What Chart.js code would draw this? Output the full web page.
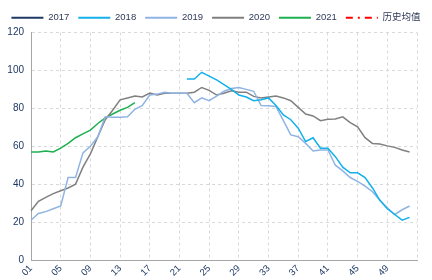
<!DOCTYPE html>
<html>
<head>
<meta charset="utf-8">
<script src="https://cdn.jsdelivr.net/npm/chart.js@4/dist/chart.umd.min.js"></script>
<style>
  html, body { margin: 0; padding: 0; background: #fff; }
  #wrap { width: 432px; height: 280px; }
</style>
</head>
<body>
<div id="wrap"><canvas id="chart"></canvas></div>
<script>
// week labels 01..53
const weeks = Array.from({ length: 53 }, (_, i) => String(i + 1).padStart(2, '0'));

// values, week 1 onwards
const s2017 = [];
const s2018 = [null, null, null, null, null, null, null, null, null, null,
    null, null, null, null, null, null, null, null, null, null, null,
    95.5, 95.5, 99, 97, 95, 92.5, 90, 87, 86, 84, 84.5, 85.5, 81.5, 76.5, 74, 69.5,
    62.5, 64.5, 59, 59, 54.5, 49, 46, 46, 43.5, 38, 31.5, 27, 24, 21, 22.5];
const s2019 = [21, 24.5, 25.5, 27, 28.5, 43.5, 43.5, 56.5, 60, 65,
    75.5, 75.3, 75.3, 75.5, 79.5, 81.5, 87, 87.5, 88.5, 88, 88, 88,
    83, 85.5, 84, 86.5, 89, 90.5, 91, 90, 89, 81.5, 81.3, 81,
    73.5, 66, 65, 61.5, 57.5, 58, 58, 50, 47, 43.5, 41.5, 39, 36, 31.5, 27.5, 24, 26.5, 28.5];
const s2020 = [26, 31, 33, 35, 36.5, 38, 40, 49, 56, 65,
    74, 79, 84.5, 85.5, 86.5, 86, 88, 87, 88, 88, 88, 88, 88.5, 91, 89.5,
    87, 88, 89.3, 88.5, 88.5, 86.3, 85.5, 86, 86.5, 85.5, 84, 80.5, 77, 76, 73.5,
    74.2, 74.4, 75.5, 72.5, 70.2, 64.5, 61.5, 61.2, 60.2, 59.4, 58, 57];
const s2021 = [57, 57, 57.5, 57, 59, 61.5, 64.5, 66.5, 68.5, 72, 75, 77, 79, 80.5, 83];
const histAvg = [];

const yTicks = [0, 20, 40, 60, 80, 100, 120];

const navy = '#1f3864';
const gridColor = '#d9d9d9';

function line(label, data, color, extra) {
    return Object.assign({
        label: label,
        data: data,
        borderColor: color,
        backgroundColor: color,
        borderWidth: 1.5,
        pointRadius: 0,
        pointStyle: 'line',
        tension: 0
    }, extra || {});
}

new Chart(document.getElementById('chart'), {
    type: 'line',
    data: {
        labels: weeks,
        datasets: [
            line('2017', s2017, '#1f3864'),
            line('2018', s2018, '#13b0ec'),
            line('2019', s2019, '#8fb4e3'),
            line('2020', s2020, '#808080'),
            line('2021', s2021, '#1db050'),
            line('历史均值', histAvg, '#ff0000', { borderDash: [7, 5, 2, 5], borderWidth: 2 })
        ]
    },
    options: {
        responsive: true,
        maintainAspectRatio: false,
        animation: false,
        layout: { padding: { left: 0, right: 0, top: 4, bottom: 0 } },
        plugins: {
            legend: {
                position: 'top',
                labels: {
                    usePointStyle: true,
                    pointStyleWidth: 32,
                    boxHeight: 8,
                    padding: 9,
                    color: '#2f3a5a',
                    font: { family: "'Liberation Sans', 'Noto Sans CJK SC', sans-serif", size: 9.5 },
                    // build the items by hand so the dash of 历史均值 shows
                    generateLabels: chart => chart.data.datasets.map((ds, i) => ({
                        text: ds.label,
                        strokeStyle: ds.borderColor,
                        fillStyle: ds.borderColor,
                        lineWidth: 2,
                        lineDash: ds.borderDash || [],
                        pointStyle: 'line',
                        fontColor: '#2f3a5a',
                        hidden: false,
                        datasetIndex: i
                    }))
                }
            },
            tooltip: { enabled: false }
        },
        scales: {
            x: {
                grid: {
                    color: c => (c.index % 4 === 0 ? gridColor : 'transparent'),
                    drawTicks: false
                },
                border: { display: true, color: '#a6a6a6', dash: [3, 3] },
                ticks: {
                    autoSkip: false,
                    maxRotation: 45,
                    minRotation: 45,
                    padding: 3,
                    color: navy,
                    font: { family: "'Liberation Sans', sans-serif", size: 9.5 },
                    callback: (v, i) => (i % 4 === 0 && i < 52 ? weeks[i] : '')
                },
                afterFit: s => { s.height = 20; }
            },
            y: {
                min: 0,
                max: 120,
                afterBuildTicks: s => { s.ticks = yTicks.map(v => ({ value: v })); },
                grid: { color: gridColor, drawTicks: false },
                border: { display: true, color: '#a6a6a6', dash: [3, 3] },
                ticks: {
                    padding: 7,
                    color: navy,
                    font: { family: "'Liberation Sans', sans-serif", size: 10 }
                },
                afterFit: s => { s.width = 31; }
            },
            // empty axis on the right, only keeps a margin free
            gap: {
                position: 'right',
                display: true,
                grid: { display: false },
                border: { display: false },
                ticks: { display: false },
                afterFit: s => { s.width = 15; }
            }
        }
    }
});
</script>
</body>
</html>
